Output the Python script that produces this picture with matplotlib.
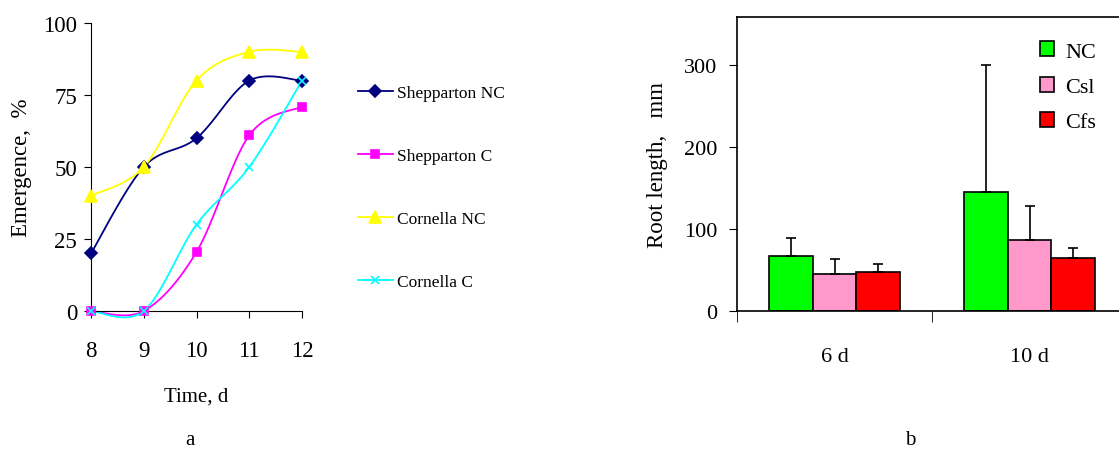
import numpy as np
import matplotlib
matplotlib.use('Agg')
import matplotlib.pyplot as plt

plt.rcParams['font.family'] = ['Liberation Serif', 'DejaVu Serif']

# panel a data
days = [8, 9, 10, 11, 12]
shep_nc = [20, 50, 60, 80, 80]
shep_c = [0, 0, 20.5, 61, 71]
corn_nc = [40, 50, 80, 90, 90]
corn_c = [0, 0, 30, 50, 80]

# panel b data
groups = ['6 d', '10 d']
nc = [67, 145]
csl = [45, 87]
cfs = [47, 65]
nc_err = [22, 155]
csl_err = [18, 41]
cfs_err = [10, 12]


# smooth curve like spreadsheet charts (bezier through points)
def smooth(x, y, n=30):
    x = np.asarray(x, float)
    y = np.asarray(y, float)
    px = np.concatenate([[x[0]], x, [x[-1]]])
    py = np.concatenate([[y[0]], y, [y[-1]]])
    xs, ys = [], []
    t = np.linspace(0, 1, n)
    for i in range(1, len(px) - 2):
        p0 = np.array([px[i], py[i]])
        p3 = np.array([px[i + 1], py[i + 1]])
        c1 = p0 + (np.array([px[i + 1], py[i + 1]]) - np.array([px[i - 1], py[i - 1]])) / 6
        c2 = p3 - (np.array([px[i + 2], py[i + 2]]) - np.array([px[i], py[i]])) / 6
        b = ((1 - t) ** 3)[:, None] * p0 + (3 * (1 - t) ** 2 * t)[:, None] * c1 \
            + (3 * (1 - t) * t ** 2)[:, None] * c2 + (t ** 3)[:, None] * p3
        xs.extend(b[:, 0])
        ys.extend(b[:, 1])
    return xs, ys


fig = plt.figure(figsize=(11.19, 4.52), dpi=100)

# ---- panel a ----
ax1 = fig.add_axes([91 / 1119, 1 - 312 / 452, 211 / 1119, 288 / 452])
series = [
    (shep_nc, 'Shepparton NC', '#000080', 'D', 6),
    (shep_c, 'Shepparton C', '#FF00FF', 's', 6),
    (corn_nc, 'Cornella NC', '#FFFF00', '^', 8),
    (corn_c, 'Cornella C', '#00FFFF', 'x', 6),
]
handles = []
for vals, name, col, mk, ms in series:
    sx, sy = smooth(days, vals)
    ax1.plot(sx, sy, color=col, lw=1.3, clip_on=False)
    ax1.plot(days, vals, ls='none', marker=mk, color=col, ms=ms, mew=1.2, clip_on=False, zorder=3)
    h, = ax1.plot([], [], color=col, lw=1.3, marker=mk, ms=ms, mew=1.2)
    handles.append((h, name))

ax1.set_xlim(8, 12)
ax1.set_ylim(0, 100)
ax1.set_xticks(days)
ax1.set_yticks([0, 25, 50, 75, 100])
ax1.spines['top'].set_visible(False)
ax1.spines['right'].set_visible(False)
ax1.tick_params(labelsize=16.5, direction='out', length=5, pad=5)
ax1.tick_params(axis='x', pad=16)
ax1.set_ylabel('Emergence,  %', fontsize=16.5, labelpad=8)
ax1.set_xlabel('Time, d', fontsize=15, labelpad=18)

for i, (h, name) in enumerate(handles):
    yy = 1 - (94 + i * 63) / 452
    fig.legend([h], [name], loc='center left', bbox_to_anchor=(358 / 1119, yy),
               frameon=False, fontsize=12.5, handlelength=2.0, handletextpad=0.25,
               borderpad=0, borderaxespad=0)

fig.text(190 / 1119, 1 - 441 / 452, 'a', fontsize=15, ha='center', va='center')

# ---- panel b ----
ax2 = fig.add_axes([737 / 1119, 1 - 312 / 452, 390 / 1119, 294 / 452])
x = np.arange(len(groups))
w = 0.225
ek = dict(ecolor='black', elinewidth=1.2, capsize=3.5, capthick=1.2)
ax2.bar(x - w, nc, w, color='#00FF00', edgecolor='black', lw=1.2,
        yerr=[np.zeros(2), nc_err], error_kw=ek, label='NC')
ax2.bar(x, csl, w, color='#FF99CC', edgecolor='black', lw=1.2,
        yerr=[np.zeros(2), csl_err], error_kw=ek, label='Csl')
ax2.bar(x + w, cfs, w, color='#FF0000', edgecolor='black', lw=1.2,
        yerr=[np.zeros(2), cfs_err], error_kw=ek, label='Cfs')
ax2.set_xlim(-0.5, 1.5)
ax2.set_ylim(0, 358)
ax2.set_yticks([0, 100, 200, 300])
ax2.set_xticks(x)
ax2.set_xticklabels(groups)
ax2.set_xticks([-0.5, 0.5, 1.5], minor=True)
ax2.tick_params(axis='x', which='major', length=0, pad=26, labelsize=16)
ax2.tick_params(axis='x', which='minor', length=8, direction='out')
ax2.tick_params(axis='y', labelsize=16, direction='out', length=6, pad=8)
for s in ax2.spines.values():
    s.set_linewidth(1.2)
ax2.set_ylabel('Root length,   mm', fontsize=16.5, labelpad=12)
ax2.legend(loc='upper right', bbox_to_anchor=(0.95, 0.955), frameon=False, fontsize=16,
           handlelength=0.65, handleheight=0.65, labelspacing=0.68, handletextpad=0.5,
           borderpad=0)

fig.text(910 / 1119, 1 - 441 / 452, 'b', fontsize=15, ha='center', va='center')

fig.savefig('out.png', dpi=100)
